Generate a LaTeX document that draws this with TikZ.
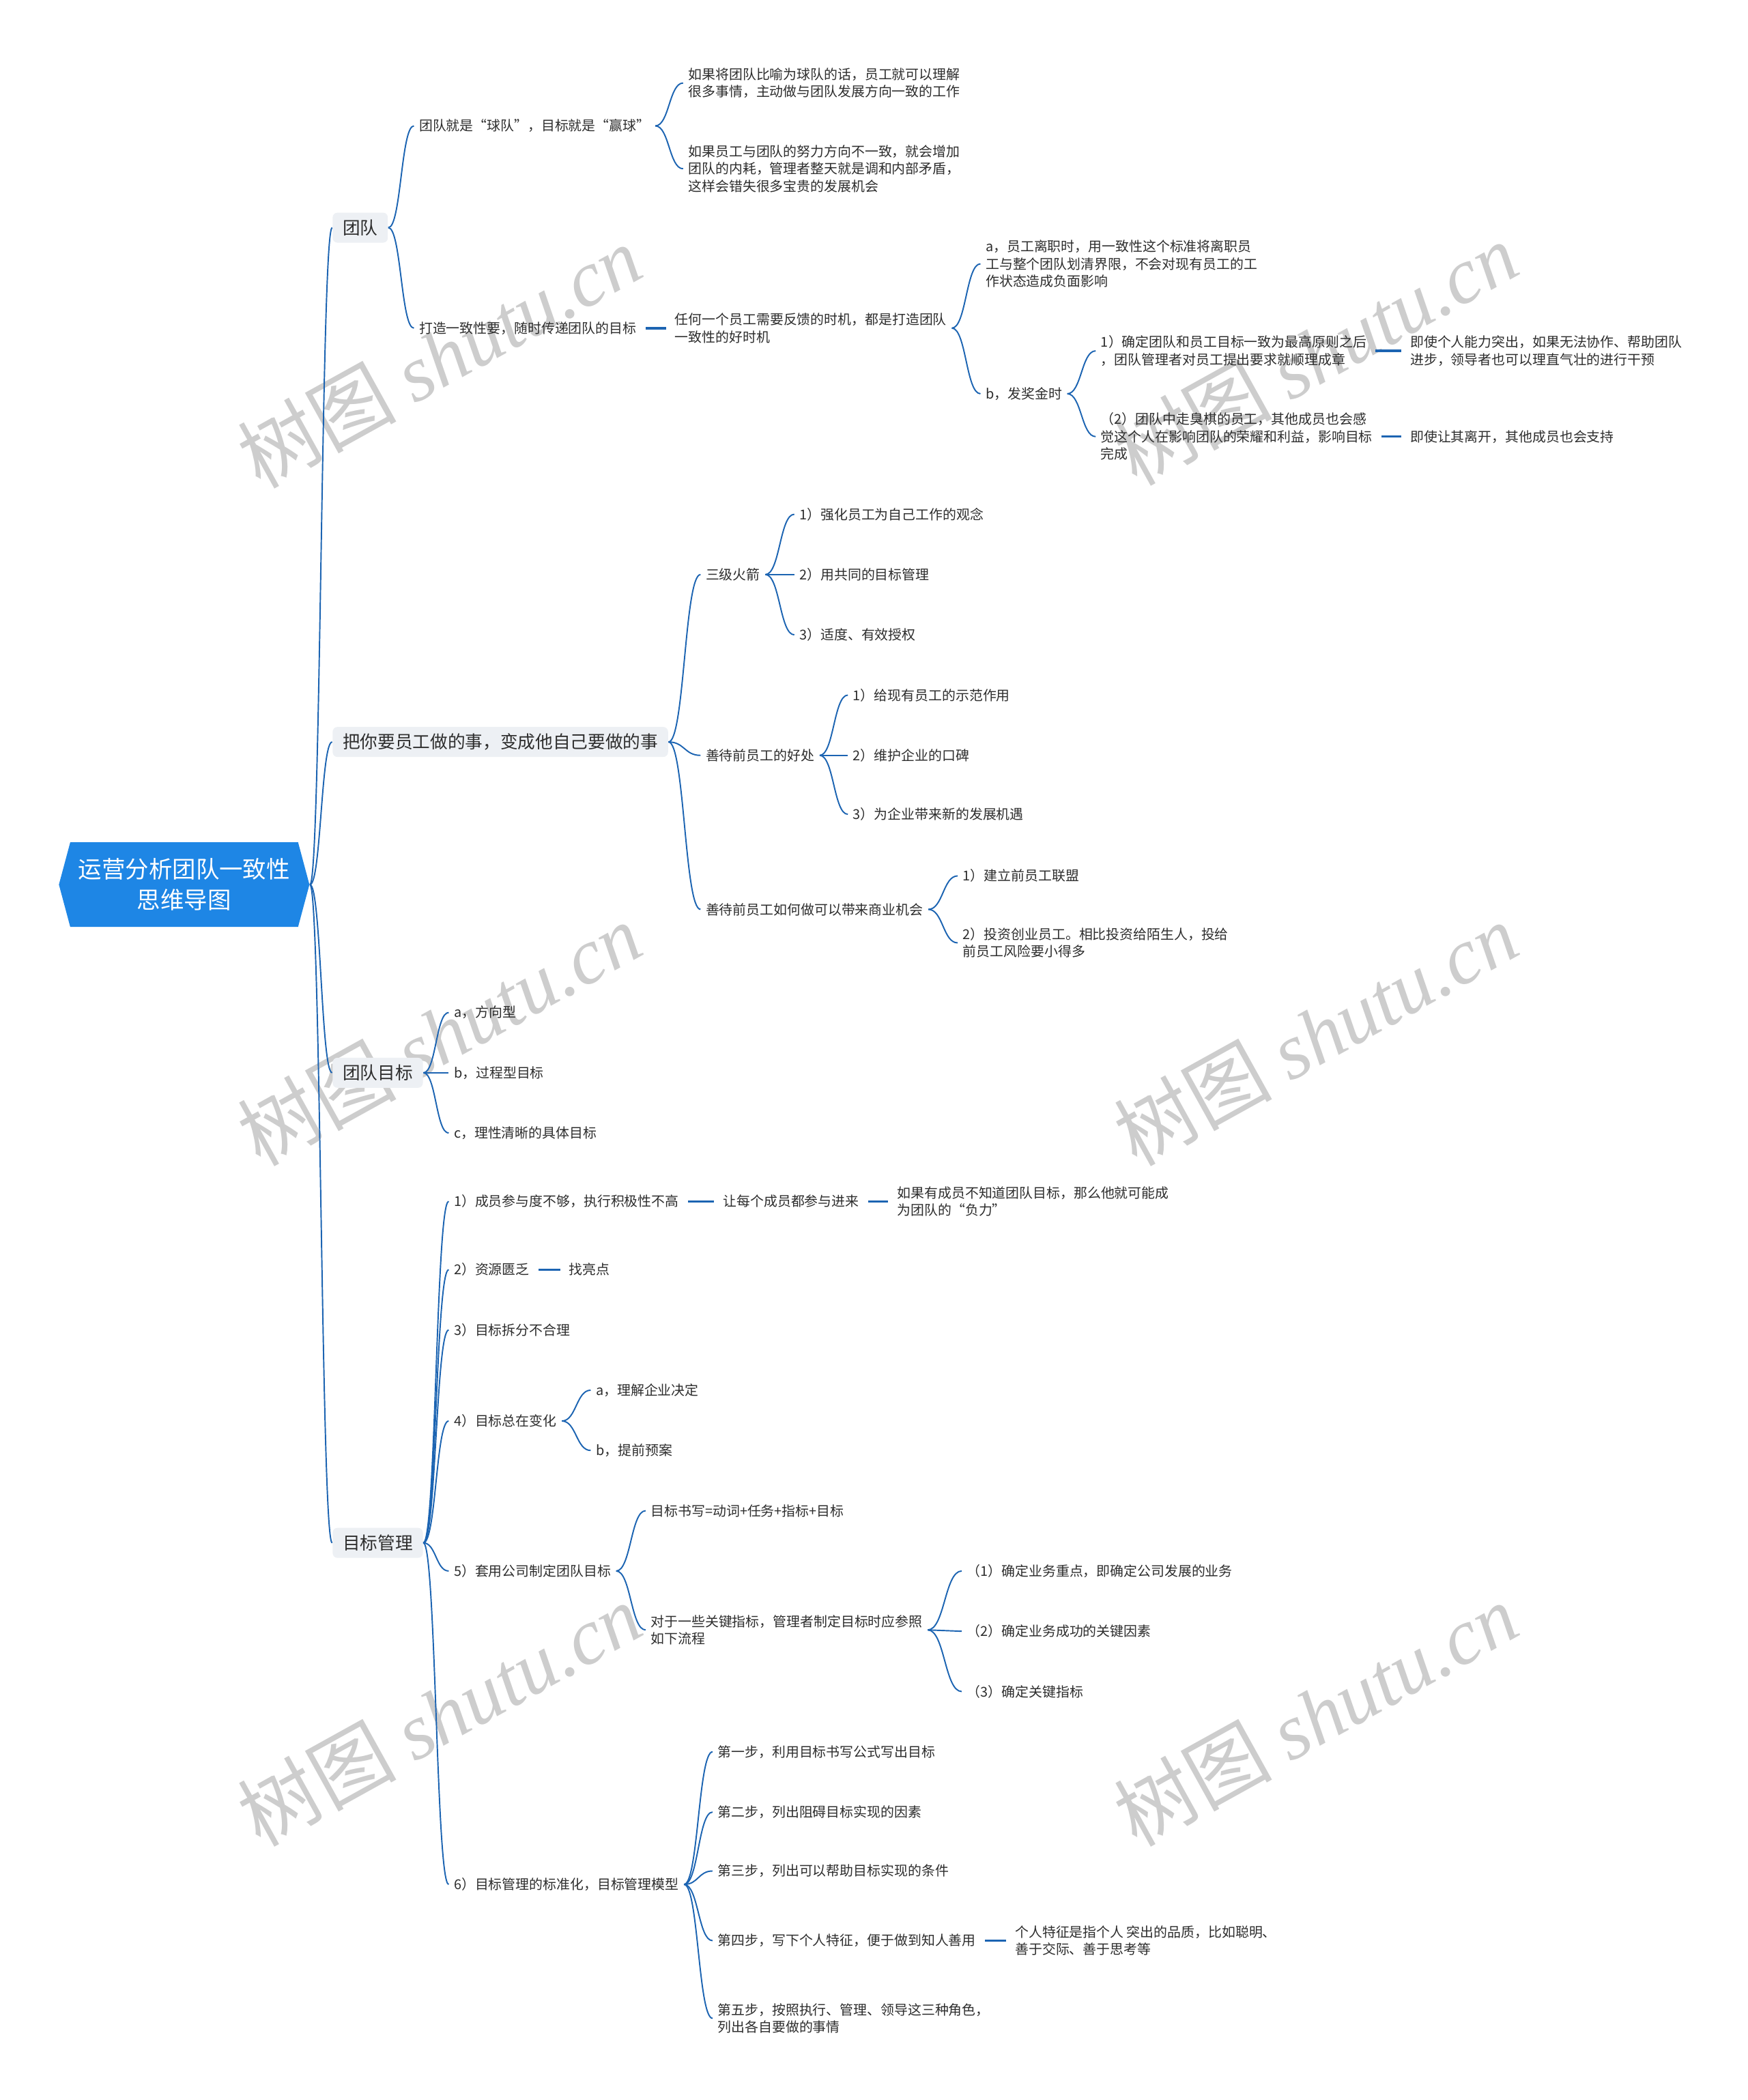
\documentclass[tikz,border=0pt]{standalone}
\usepackage{fontspec}
\setmainfont{Noto Sans CJK SC}
\newfontfamily\wmserif{Liberation Serif}
\usetikzlibrary{calc,shapes.symbols}

\definecolor{linkblue}{RGB}{28,100,178}
\definecolor{rootblue}{RGB}{30,134,229}
\definecolor{mainbg}{RGB}{237,240,244}
\definecolor{txtdark}{RGB}{45,45,45}
\definecolor{wmgray}{RGB}{205,205,205}

\tikzset{
  rootnode/.style={signal, signal to=west and east, signal pointer angle=150,
    fill=rootblue, text=white, align=center, inner sep=0pt,
    minimum width=3.67cm, minimum height=1.24cm,
    font=\fontsize{9.8pt}{12.8pt}\selectfont},
  mainnode/.style={anchor=west, fill=mainbg, rounded corners=2pt,
    inner xsep=4.2pt, inner ysep=0pt, minimum height=12.5pt, text=txtdark,
    font=\fontsize{7.3pt}{9pt}\selectfont},
  leaf/.style={anchor=west, inner xsep=2pt, inner ysep=1pt, align=left,
    text=txtdark, font=\fontsize{5.66pt}{7.25pt}\selectfont},
  branch/.style={draw=linkblue, line width=0.55pt,
    to path={let \p1=(\tikztostart), \p2=(\tikztotarget) in
      .. controls ({0.5*(\x1+\x2)},\y1) and ({0.5*(\x1+\x2)},\y2) .. (\tikztotarget)}},
  stub/.style={draw=linkblue, line width=1pt, shorten <=1.6pt, shorten >=1.6pt},
  wmark/.style={rotate=29, text=wmgray, inner sep=0pt,
    font=\fontsize{33pt}{33pt}\selectfont},
}

\begin{document}
\begin{tikzpicture}[x=0.019617cm, y=-0.019617cm]
        \fill[white] (0,0) rectangle (1305,1568);
        \useasboundingbox (0,0) rectangle (1305,1568);

        % 水印
        \node[wmark] (wm_1) at (328,266) {树图 {\wmserif\itshape shutu.cn}};
        \node[wmark] (wm_2) at (982,264) {树图 {\wmserif\itshape shutu.cn}};
        \node[wmark] (wm_3) at (328,772) {树图 {\wmserif\itshape shutu.cn}};
        \node[wmark] (wm_4) at (982,772) {树图 {\wmserif\itshape shutu.cn}};
        \node[wmark] (wm_5) at (328,1280) {树图 {\wmserif\itshape shutu.cn}};
        \node[wmark] (wm_6) at (982,1280) {树图 {\wmserif\itshape shutu.cn}};

        % 中心主题
        \node[rootnode] (root) at (137.5,660.5) {运营分析团队一致性\\思维导图};

        % 一级分支
        \node[mainnode] (team) at (248,170) {团队};
        \node[mainnode] (staff) at (248,554) {把你要员工做的事，变成他自己要做的事};
        \node[mainnode] (goal) at (248,801) {团队目标};
        \node[mainnode] (mgmt) at (248,1152) {目标管理};
        \draw[branch] (root.east) to (team.west);
        \draw[branch] (root.east) to (staff.west);
        \draw[branch] (root.east) to (goal.west);
        \draw[branch] (root.east) to (mgmt.west);

        % 团队
        \node[leaf] (team_ball) at (309,94) {团队就是“球队”，目标就是“赢球”};
        \node[leaf] (team_sync) at (309,245) {打造一致性要，随时传递团队的目标};
        \draw[branch] (team.east) to (team_ball.west);
        \draw[branch] (team.east) to (team_sync.west);

        \node[leaf] (ball_a) at (510,62) {如果将团队比喻为球队的话，员工就可以理解\\很多事情，主动做与团队发展方向一致的工作};
        \node[leaf] (ball_b) at (510,126) {如果员工与团队的努力方向不一致，就会增加\\团队的内耗，管理者整天就是调和内部矛盾，\\这样会错失很多宝贵的发展机会};
        \draw[branch] (team_ball.east) to (ball_a.west);
        \draw[branch] (team_ball.east) to (ball_b.west);

        \node[leaf] (sync_fb) at (500,245) {任何一个员工需要反馈的时机，都是打造团队\\一致性的好时机};
        \draw[stub] (team_sync.east) -- (sync_fb.west);

        \node[leaf] (fb_a) at (732,197) {a，员工离职时，用一致性这个标准将离职员\\工与整个团队划清界限，不会对现有员工的工\\作状态造成负面影响};
        \node[leaf] (fb_b) at (732,294) {b，发奖金时};
        \draw[branch] (sync_fb.east) to (fb_a.west);
        \draw[branch] (sync_fb.east) to (fb_b.west);

        \node[leaf] (bonus_1) at (818,262) {1）确定团队和员工目标一致为最高原则之后\\，团队管理者对员工提出要求就顺理成章};
        \node[leaf] (bonus_2) at (818,326) {（2）团队中走臭棋的员工，其他成员也会感\\觉这个人在影响团队的荣耀和利益，影响目标\\完成};
        \draw[branch] (fb_b.east) to (bonus_1.west);
        \draw[branch] (fb_b.east) to (bonus_2.west);

        \node[leaf] (bonus_1r) at (1049,262) {即使个人能力突出，如果无法协作、帮助团队\\进步，领导者也可以理直气壮的进行干预};
        \node[leaf] (bonus_2r) at (1049,326) {即使让其离开，其他成员也会支持};
        \draw[stub] (bonus_1.east) -- (bonus_1r.west);
        \draw[stub] (bonus_2.east) -- (bonus_2r.west);

        % 把你要员工做的事
        \node[leaf] (rocket) at (523,429) {三级火箭};
        \node[leaf] (former) at (523,564) {善待前员工的好处};
        \node[leaf] (biz) at (523,679) {善待前员工如何做可以带来商业机会};
        \draw[branch] (staff.east) to (rocket.west);
        \draw[branch] (staff.east) to (former.west);
        \draw[branch] (staff.east) to (biz.west);

        \node[leaf] (rocket_1) at (593,384) {1）强化员工为自己工作的观念};
        \node[leaf] (rocket_2) at (593,429) {2）用共同的目标管理};
        \node[leaf] (rocket_3) at (593,474) {3）适度、有效授权};
        \draw[branch] (rocket.east) to (rocket_1.west);
        \draw[branch] (rocket.east) to (rocket_2.west);
        \draw[branch] (rocket.east) to (rocket_3.west);

        \node[leaf] (former_1) at (633,519) {1）给现有员工的示范作用};
        \node[leaf] (former_2) at (633,564) {2）维护企业的口碑};
        \node[leaf] (former_3) at (633,608) {3）为企业带来新的发展机遇};
        \draw[branch] (former.east) to (former_1.west);
        \draw[branch] (former.east) to (former_2.west);
        \draw[branch] (former.east) to (former_3.west);

        \node[leaf] (biz_1) at (715,654) {1）建立前员工联盟};
        \node[leaf] (biz_2) at (715,704) {2）投资创业员工。相比投资给陌生人，投给\\前员工风险要小得多};
        \draw[branch] (biz.east) to (biz_1.west);
        \draw[branch] (biz.east) to (biz_2.west);

        % 团队目标
        \node[leaf] (goal_a) at (335,756) {a，方向型};
        \node[leaf] (goal_b) at (335,801) {b，过程型目标};
        \node[leaf] (goal_c) at (335,846) {c，理性清晰的具体目标};
        \draw[branch] (goal.east) to (goal_a.west);
        \draw[branch] (goal.east) to (goal_b.west);
        \draw[branch] (goal.east) to (goal_c.west);

        % 目标管理
        \node[leaf] (m1) at (335,897) {1）成员参与度不够，执行积极性不高};
        \node[leaf] (m2) at (335,948) {2）资源匮乏};
        \node[leaf] (m3) at (335,993) {3）目标拆分不合理};
        \node[leaf] (m4) at (335,1061) {4）目标总在变化};
        \node[leaf] (m5) at (335,1173) {5）套用公司制定团队目标};
        \node[leaf] (m6) at (335,1407) {6）目标管理的标准化，目标管理模型};
        \draw[branch] (mgmt.east) to (m1.west);
        \draw[branch] (mgmt.east) to (m2.west);
        \draw[branch] (mgmt.east) to (m3.west);
        \draw[branch] (mgmt.east) to (m4.west);
        \draw[branch] (mgmt.east) to (m5.west);
        \draw[branch] (mgmt.east) to (m6.west);

        \node[leaf] (m1_fix) at (536,897) {让每个成员都参与进来};
        \node[leaf] (m1_note) at (666,897) {如果有成员不知道团队目标，那么他就可能成\\为团队的“负力”};
        \draw[stub] (m1.east) -- (m1_fix.west);
        \draw[stub] (m1_fix.east) -- (m1_note.west);

        \node[leaf] (m2_fix) at (421,948) {找亮点};
        \draw[stub] (m2.east) -- (m2_fix.west);

        \node[leaf] (m4_a) at (441,1038) {a，理解企业决定};
        \node[leaf] (m4_b) at (441,1083) {b，提前预案};
        \draw[branch] (m4.east) to (m4_a.west);
        \draw[branch] (m4.east) to (m4_b.west);

        \node[leaf] (m5_formula) at (482,1128) {目标书写=动词+任务+指标+目标};
        \node[leaf] (m5_flow) at (482,1217) {对于一些关键指标，管理者制定目标时应参照\\如下流程};
        \draw[branch] (m5.east) to (m5_formula.west);
        \draw[branch] (m5.east) to (m5_flow.west);

        \node[leaf] (flow_1) at (718,1173) {（1）确定业务重点，即确定公司发展的业务};
        \node[leaf] (flow_2) at (718,1218) {（2）确定业务成功的关键因素};
        \node[leaf] (flow_3) at (718,1263) {（3）确定关键指标};
        \draw[branch] (m5_flow.east) to (flow_1.west);
        \draw[branch] (m5_flow.east) to (flow_2.west);
        \draw[branch] (m5_flow.east) to (flow_3.west);

        \node[leaf] (step_1) at (532,1308) {第一步，利用目标书写公式写出目标};
        \node[leaf] (step_2) at (532,1353) {第二步，列出阻碍目标实现的因素};
        \node[leaf] (step_3) at (532,1397) {第三步，列出可以帮助目标实现的条件};
        \node[leaf] (step_4) at (532,1449) {第四步，写下个人特征，便于做到知人善用};
        \node[leaf] (step_5) at (532,1507) {第五步，按照执行、管理、领导这三种角色，\\列出各自要做的事情};
        \draw[branch] (m6.east) to (step_1.west);
        \draw[branch] (m6.east) to (step_2.west);
        \draw[branch] (m6.east) to (step_3.west);
        \draw[branch] (m6.east) to (step_4.west);
        \draw[branch] (m6.east) to (step_5.west);

        \node[leaf] (step_4_note) at (754,1449) {个人特征是指个人 突出的品质，比如聪明、\\善于交际、善于思考等};
        \draw[stub] (step_4.east) -- (step_4_note.west);
    \end{tikzpicture}
\end{document}
